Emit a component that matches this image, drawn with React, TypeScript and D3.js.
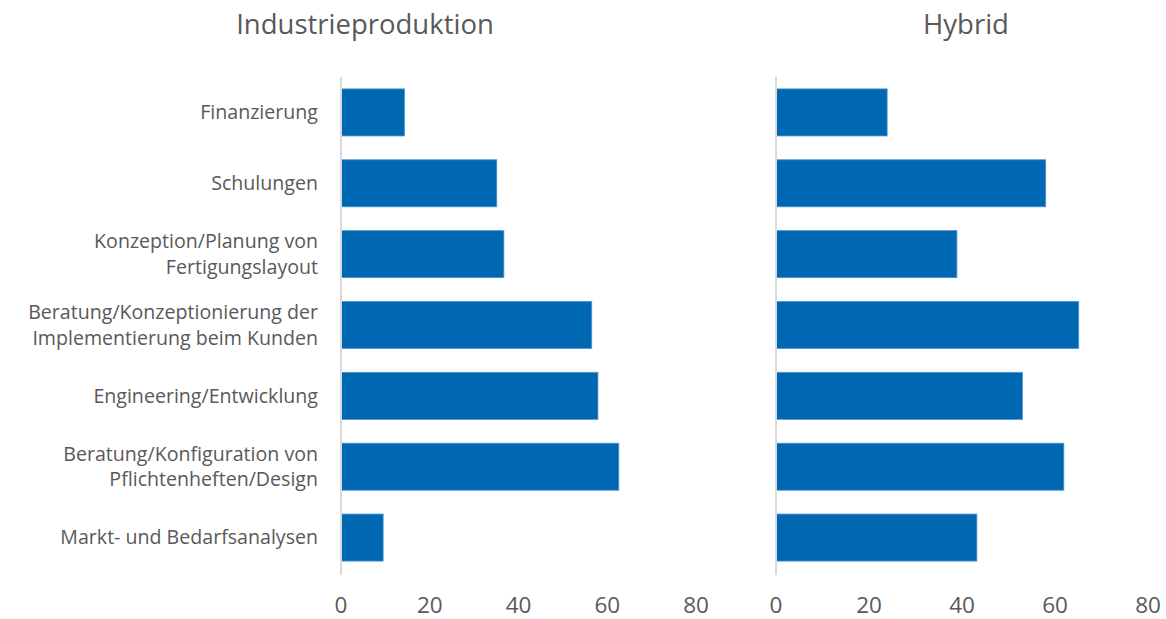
import React, { useEffect, useRef } from "react";
import * as d3 from "d3";

// categories top to bottom
const categories = [
  "Finanzierung",
  "Schulungen",
  "Konzeption/Planung von\nFertigungslayout",
  "Beratung/Konzeptionierung der\nImplementierung beim Kunden",
  "Engineering/Entwicklung",
  "Beratung/Konfiguration von\nPflichtenheften/Design",
  "Markt- und Bedarfsanalysen",
];

const industrie = [14.3, 35.1, 36.7, 56.5, 57.9, 62.6, 9.5];
const hybrid = [23.9, 58, 38.9, 65.1, 53, 61.9, 43.2];

const tickValues = [0, 20, 40, 60, 80];

const panels = [
  { title: "Industrieproduktion", values: industrie, x0: 341, x1: 696, titleX: 365 },
  { title: "Hybrid", values: hybrid, x0: 776, x1: 1148, titleX: 966 },
];

const FONT = "'Open Sans', 'Liberation Sans', sans-serif";
const TEXT = "#595959";

const App = () => {
  const ref = useRef<SVGSVGElement>(null);

  useEffect(() => {
    const svg = d3.select(ref.current);
    svg.selectAll("*").remove();

    const y = d3
      .scaleBand<number>()
      .domain(d3.range(categories.length))
      .range([77, 573])
      .paddingInner(0.336)
      .paddingOuter(0.168);

    // category labels, one text per line
    const fs = 19.6;
    const lh = 25.5;
    categories.forEach((d, i) => {
      const lines = d.split("\n");
      const cy = y(i)! + y.bandwidth() / 2;
      lines.forEach((line, j) => {
        svg
          .append("text")
          .attr("text-anchor", "end")
          .attr("font-family", FONT)
          .attr("font-size", fs)
          .attr("fill", TEXT)
          .attr("x", 318)
          .attr("y", cy + (j - (lines.length - 1) / 2) * lh)
          .attr("dy", "0.35em")
          .text(line);
      });
    });

    panels.forEach((p) => {
      const x = d3.scaleLinear().domain([0, 80]).range([p.x0, p.x1]);
      const g = svg.append("g");

      // title
      g.append("text")
        .attr("x", p.titleX)
        .attr("y", 34)
        .attr("text-anchor", "middle")
        .attr("font-family", FONT)
        .attr("font-size", 27.5)
        .attr("fill", TEXT)
        .text(p.title);

      // bars
      g.selectAll("rect")
        .data(p.values)
        .enter()
        .append("rect")
        .attr("x", x(0))
        .attr("y", (_d, i) => y(i)!)
        .attr("width", (d) => x(d) - x(0))
        .attr("height", y.bandwidth())
        .attr("fill", "#0068B2")
        .attr("stroke", "#4f93d1")
        .attr("stroke-width", 0.8);

      // axis line
      g.append("line")
        .attr("x1", x(0))
        .attr("x2", x(0))
        .attr("y1", 77)
        .attr("y2", 575)
        .attr("stroke", "#d9d9d9")
        .attr("stroke-width", 2);

      // tick labels
      g.selectAll("text.tick")
        .data(tickValues)
        .enter()
        .append("text")
        .attr("class", "tick")
        .attr("x", (d) => x(d))
        .attr("y", 613)
        .attr("text-anchor", "middle")
        .attr("font-family", FONT)
        .attr("font-size", 22.5)
        .attr("fill", TEXT)
        .text((d) => d);
    });
  }, []);

  return (
    <svg
      ref={ref}
      width={1166}
      height={619}
      style={{ position: "absolute", left: 0, top: 0, background: "#fff" }}
    ></svg>
  );
};

export default App;
